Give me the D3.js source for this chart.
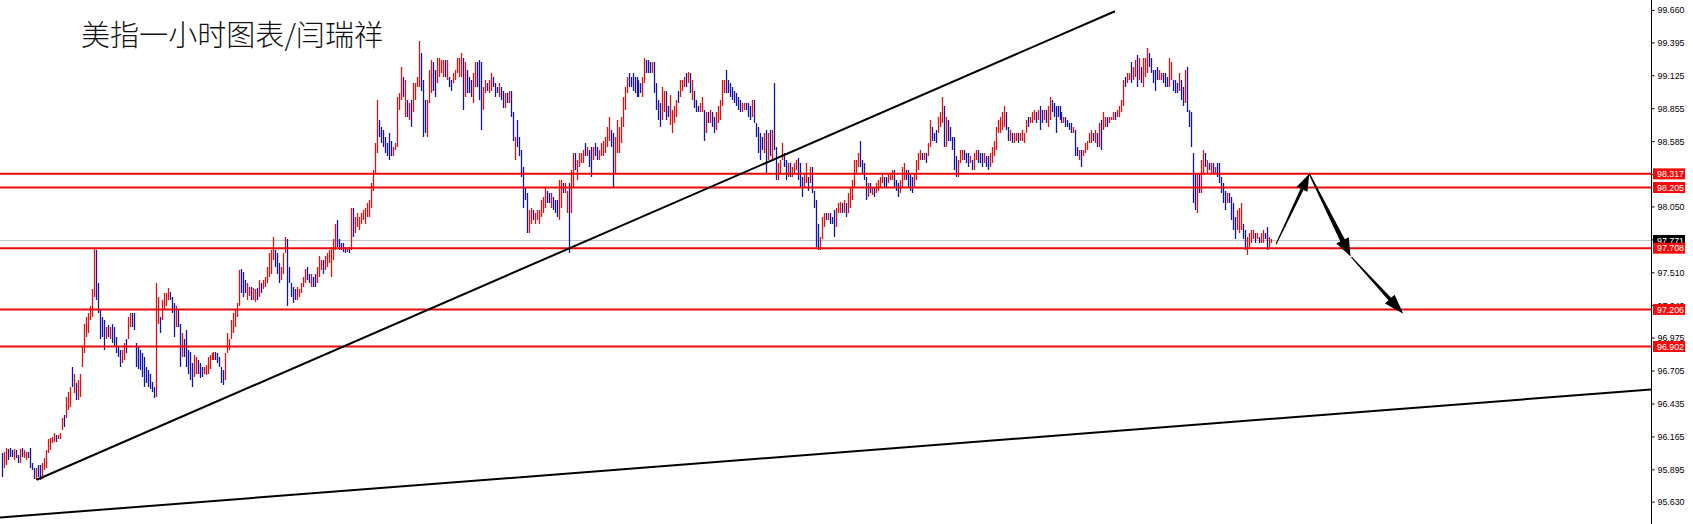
<!DOCTYPE html>
<html><head><meta charset="utf-8">
<script src="https://cdn.jsdelivr.net/npm/d3@7"></script>
<style>html,body{margin:0;padding:0;background:#fff;overflow:hidden}</style>
</head><body>
<svg id="c" width="1693" height="524"></svg>
<script>
const title = "美指一小时图表/闫瑞祥";
const highs = [
96.03,96.04,96.07,96.06,96.07,96.05,96.06,96.05,96.01,96.06,96.07,96.05,
96.04,96.04,96.07,95.95,95.91,95.91,95.93,95.93,95.95,95.99,96.05,
96.14,96.15,96.16,96.19,96.18,96.18,96.19,96.32,96.34,96.49,96.53,
96.57,96.73,96.68,96.60,96.63,96.68,96.90,97.09,97.14,97.18,
97.23,97.37,97.71,97.69,97.42,97.20,97.14,97.12,97.06,97.08,
97.06,97.09,97.06,96.98,96.90,96.87,96.87,96.93,96.96,97.14,
97.18,97.18,97.18,96.93,96.90,96.87,96.85,96.82,96.73,96.71,
96.68,96.61,96.57,97.42,97.31,97.14,97.28,97.34,97.34,97.38,
97.35,97.31,97.26,97.23,97.20,97.09,97.01,96.96,97.04,96.87,
96.86,96.77,96.83,96.82,96.79,96.77,96.73,96.73,96.75,96.82,
96.83,96.85,96.86,96.86,96.85,96.82,96.73,96.71,96.85,97.01,
96.96,97.12,97.18,97.20,97.26,97.53,97.54,97.51,97.45,97.42,
97.39,97.39,97.38,97.37,97.38,97.45,97.42,97.45,97.47,97.55,
97.67,97.69,97.80,97.69,97.67,97.59,97.55,97.67,97.80,97.78,
97.55,97.42,97.39,97.37,97.39,97.37,97.42,97.47,97.54,97.55,
97.50,97.50,97.47,97.50,97.55,97.64,97.61,97.61,97.64,97.67,
97.69,97.72,97.78,97.91,97.94,97.78,97.75,97.75,97.72,97.72,
97.72,98.04,98.04,97.96,98.00,97.96,98.00,98.02,98.04,98.08,
98.10,98.24,98.35,98.57,98.92,98.76,98.70,98.68,98.62,98.57,
98.65,98.59,98.54,98.57,98.95,98.98,99.19,99.11,99.09,98.92,98.90,
98.92,99.06,99.06,99.11,99.41,99.31,99.09,98.92,98.92,99.17,
99.25,99.23,99.17,99.27,99.27,99.25,99.25,99.25,99.25,99.11,
99.09,99.14,99.17,99.27,99.27,99.31,99.27,99.23,99.17,99.11,
99.09,99.14,99.23,99.23,99.25,99.23,99.03,99.09,99.06,99.09,
99.14,99.11,99.06,99.03,99.06,99.03,99.00,98.98,98.98,99.00,
99.00,98.82,98.62,98.76,98.62,98.51,98.37,98.21,98.16,98.02,
98.04,98.02,98.00,98.02,98.02,98.10,98.13,98.21,98.18,98.16,
98.16,98.13,98.10,98.10,98.27,98.27,98.24,98.24,98.18,98.24,
98.35,98.49,98.49,98.43,98.49,98.49,98.51,98.57,98.54,98.51,
98.54,98.54,98.57,98.54,98.51,98.57,98.59,98.62,98.70,98.78,
98.68,98.65,98.62,98.76,98.70,98.78,98.95,99.03,99.11,99.14,
99.11,99.14,99.11,99.11,99.09,99.06,99.11,99.27,99.25,99.25,
99.23,99.23,99.23,99.06,98.92,98.90,99.03,99.00,99.00,98.87,98.96,
98.84,98.87,98.92,99.00,99.09,99.09,99.11,99.14,99.15,99.14,
99.09,99.00,98.92,98.87,98.90,98.95,98.84,98.82,98.82,98.84,
98.82,98.78,98.82,98.87,98.92,99.09,99.09,99.17,99.09,99.06,
99.03,99.00,98.98,98.95,98.92,98.90,98.90,98.90,98.90,98.87,
98.92,98.92,98.73,98.70,98.65,98.62,98.65,98.68,98.65,98.68,
98.68,99.06,98.54,98.41,98.43,98.57,98.49,98.43,98.41,98.41,
98.37,98.41,98.43,98.45,98.41,98.29,98.32,98.41,98.29,98.37,
98.37,98.18,98.10,97.91,97.80,97.96,98.00,98.00,98.00,98.00,
97.96,98.02,98.04,98.08,98.09,98.08,98.10,98.08,98.16,98.21,
98.27,98.43,98.43,98.49,98.59,98.43,98.41,98.29,98.24,98.24,
98.21,98.21,98.24,98.27,98.29,98.32,98.29,98.29,98.32,98.32,
98.35,98.35,98.27,98.24,98.27,98.37,98.41,98.35,98.35,98.32,
98.29,98.32,98.43,98.49,98.51,98.49,98.49,98.49,98.57,98.76,
98.70,98.65,98.68,98.78,98.82,98.95,98.87,98.78,98.76,98.70,
98.62,98.62,98.46,98.43,98.51,98.51,98.51,98.49,98.49,98.46,
98.43,98.49,98.51,98.51,98.49,98.49,98.49,98.46,98.46,98.49,
98.54,98.59,98.70,98.76,98.78,98.82,98.87,98.82,98.70,98.68,
98.65,98.65,98.65,98.65,98.65,98.68,98.65,98.76,98.78,98.78,
98.82,98.84,98.82,98.84,98.87,98.84,98.84,98.84,98.87,98.95,
98.92,98.90,98.87,98.87,98.87,98.82,98.78,98.78,98.76,98.73,
98.73,98.70,98.68,98.54,98.51,98.51,98.51,98.57,98.59,98.65,
98.68,98.65,98.68,98.65,98.73,98.76,98.82,98.78,98.78,98.78,
98.78,98.82,98.82,98.84,98.87,98.92,99.09,99.11,99.14,99.14,
99.23,99.19,99.25,99.29,99.27,99.19,99.27,99.27,99.35,99.31,
99.27,99.17,99.17,99.19,99.17,99.14,99.14,99.14,99.11,99.27,
99.23,99.09,99.09,99.06,99.14,99.09,99.03,99.17,99.19,98.84,
98.82,98.49,98.32,98.32,98.32,98.43,98.51,98.49,98.43,98.41,
98.41,98.41,98.37,98.41,98.41,98.29,98.24,98.18,98.16,98.16,
98.13,98.08,97.96,98.02,98.04,98.08,97.91,97.86,97.80,97.83,
97.86,97.86,97.83,97.83,97.80,97.83,97.86,97.83,97.88,97.80,
97.78];
const lows = [
95.83,95.91,95.93,95.97,96.00,96.00,95.97,95.99,95.95,95.95,96.00,95.99,
95.97,95.99,95.91,95.89,95.82,95.81,95.83,95.81,95.82,95.89,95.91,
96.03,96.05,96.11,96.12,96.12,96.14,96.14,96.22,96.24,96.32,96.38,
96.41,96.57,96.52,96.46,96.46,96.49,96.73,96.85,96.98,97.01,
97.12,97.14,97.31,97.28,97.18,96.96,96.98,96.87,96.96,96.98,
96.96,96.93,96.90,96.85,96.82,96.73,96.77,96.79,96.85,96.96,
97.06,97.06,97.04,96.73,96.72,96.71,96.65,96.57,96.60,96.57,
96.55,96.53,96.48,96.49,97.09,97.01,97.12,97.20,97.23,97.28,
97.28,97.18,96.98,97.06,97.06,96.73,96.82,96.82,96.73,96.68,
96.63,96.57,96.65,96.68,96.68,96.64,96.65,96.68,96.67,96.68,
96.72,96.79,96.79,96.79,96.77,96.73,96.60,96.59,96.63,96.85,
96.87,96.96,97.01,97.06,97.14,97.23,97.34,97.31,97.34,97.28,
97.32,97.28,97.28,97.27,97.28,97.31,97.34,97.37,97.39,97.42,
97.47,97.50,97.61,97.55,97.50,97.42,97.45,97.50,97.67,97.23,
97.42,97.31,97.26,97.28,97.28,97.31,97.34,97.39,97.42,97.45,
97.42,97.39,97.39,97.39,97.42,97.47,97.53,97.50,97.53,97.55,
97.59,97.47,97.61,97.69,97.72,97.69,97.69,97.68,97.67,97.68,
97.67,97.69,97.80,97.83,97.88,97.86,97.91,97.94,97.91,97.96,
97.96,98.04,98.18,98.32,98.49,98.62,98.57,98.54,98.49,98.46,
98.43,98.46,98.46,98.51,98.54,98.84,98.92,98.95,98.78,98.78,98.76,
98.70,98.82,98.92,99.03,99.03,99.00,98.62,98.65,98.62,98.90,
98.98,99.00,98.95,99.06,99.11,99.14,99.11,99.11,99.09,99.03,
99.00,99.06,99.09,99.14,99.11,99.11,98.84,98.95,98.98,98.98,
98.95,98.90,99.03,99.03,98.92,98.68,98.84,98.98,99.00,98.98,
99.00,99.03,98.95,98.98,98.95,98.92,98.86,98.86,98.90,98.90,
98.78,98.59,98.43,98.54,98.46,98.29,98.04,98.10,97.83,97.83,
97.91,97.94,97.91,97.94,97.91,97.96,98.00,98.04,98.08,98.08,
98.04,98.02,98.00,97.96,97.94,98.04,98.16,98.16,98.00,97.67,
98.00,98.21,98.35,98.27,98.37,98.41,98.41,98.46,98.46,98.37,
98.29,98.43,98.46,98.43,98.43,98.46,98.46,98.49,98.54,98.59,
98.54,98.21,98.32,98.49,98.49,98.57,98.70,98.84,98.98,99.03,
99.03,99.00,98.98,98.95,98.95,98.98,98.95,99.06,99.14,99.14,
99.14,99.14,98.98,98.84,98.76,98.70,98.76,98.82,98.76,98.78,98.72,
98.65,98.73,98.78,98.90,98.95,99.00,99.03,99.03,99.06,98.98,
98.92,98.86,98.82,98.82,98.82,98.82,98.59,98.65,98.73,98.73,
98.70,98.65,98.68,98.73,98.76,98.87,98.98,98.98,98.98,98.95,
98.92,98.90,98.87,98.84,98.82,98.82,98.84,98.84,98.78,98.76,
98.78,98.73,98.62,98.49,98.43,98.51,98.49,98.32,98.43,98.46,
98.43,98.51,98.27,98.27,98.32,98.43,98.37,98.27,98.29,98.29,
98.29,98.32,98.35,98.27,98.21,98.13,98.21,98.24,98.18,98.24,
98.16,98.04,97.72,97.69,97.69,97.78,97.88,97.94,97.94,97.91,
97.91,97.80,97.88,98.00,98.00,98.00,98.00,97.96,98.00,98.04,
98.10,98.21,98.32,98.37,98.37,98.32,98.27,98.10,98.13,98.16,
98.14,98.13,98.16,98.18,98.21,98.24,98.21,98.21,98.24,98.27,
98.27,98.21,98.18,98.13,98.16,98.21,98.27,98.27,98.21,98.18,
98.16,98.21,98.27,98.35,98.43,98.43,98.43,98.41,98.46,98.54,
98.59,98.59,98.57,98.65,98.70,98.73,98.54,98.54,98.59,98.59,
98.51,98.35,98.29,98.29,98.41,98.43,98.43,98.41,98.37,98.41,
98.35,98.35,98.43,98.41,98.41,98.37,98.41,98.37,98.35,98.37,
98.41,98.46,98.51,98.65,98.65,98.68,98.70,98.68,98.59,98.59,
98.57,98.57,98.59,98.57,98.59,98.59,98.57,98.65,98.70,98.73,
98.73,98.76,98.73,98.76,98.68,98.73,98.76,98.73,98.70,98.76,
98.82,98.78,98.65,98.78,98.76,98.73,98.73,98.70,98.70,98.68,
98.65,98.65,98.46,98.46,98.43,98.37,98.46,98.49,98.51,98.57,
98.57,98.59,98.57,98.54,98.54,98.51,98.68,98.70,98.70,98.73,
98.76,98.76,98.76,98.78,98.78,98.82,98.87,99.03,99.06,99.09,
99.06,99.09,99.11,99.03,99.09,99.06,99.03,99.11,99.14,99.19,
99.14,99.06,99.00,99.09,99.09,99.09,99.06,99.03,99.03,99.03,
99.09,99.00,98.98,98.98,99.00,98.92,98.87,98.90,98.82,98.70,
98.54,98.08,98.02,98.00,98.16,98.16,98.32,98.37,98.32,98.35,
98.32,98.32,98.32,98.29,98.24,98.16,98.08,98.02,98.08,98.08,
97.94,97.86,97.78,97.86,97.83,97.86,97.78,97.69,97.65,97.72,
97.75,97.78,97.75,97.78,97.75,97.75,97.75,97.78,97.69,97.72,
97.75];
// U = bullish bar (red), D = bearish bar (blue)
const directions = [
"DUUDDDUDDUDU","UDDDDUDDUUU","UUUUDUUUDUU","UDUDUUUUUU","UUUDDDDDUD",
"UDDDDDUUDU","UDDDDDDDDD","DDDUUDUUUU","DDDUDDUDDD","DDUUDDDUUU",
"UUUDDDDDUU","UUUUUUDDDU","UDUUDUDUUU","UUUDDDUUUD","DDDDUUUUUD",
"DUDDUUUDUU","UUUUDDDDDU","DUDUUUUUUU","UUUUUDDDDD","DDUUUUUDUDU",
"DUUUUDDDUU","UDDUUUUDUD","DUUUUUDUDD","DUUDDDUUDU","UDDDUDDUDU",
"DDUDDDDDDU","UDUUUUUUDD","UDDDUUDUUD","UUDUUUUDUD","DUDDUUUUUU",
"DDUUUUUUUD","DDDDDDUUDD","DUDDDDUUDDU","UUUDUUUDUD","UDDDUUDUDU",
"DDUUUUUDDD","DDDDDUUDDD","UDDDDDUDUD","UDDUUUDDUD","UUUDDDUUDU",
"DDDDUUUDUD","DDUUUDUDUU","UUUUDDDDUD","UDUUUUDDUU","UDDDUUUDDD",
"DUUUUDUDUU","DDDUUUDUDD","DDDUUUDDDU","DUUDDDUDDU","UUUUUUUDDU",
"DUUDUUUUDU","UUDUDDUDUU","DDDDDDUDDD","DUDDUDUUUU","UDUDUDUUDU",
"UUDUUUUDUU","DUUDUDUUUD","DDDDUUDDDU","UDDDUDDUDD","DDDUDUUDUD",
"UDUDDDDDUD","DDDUUUDDUU","UUDUDUUDDU","U"].join("").split("");

const tickValues = [99.660, 99.395, 99.125, 98.855, 98.585, 98.315, 98.050, 97.780,
                    97.510, 97.240, 96.975, 96.705, 96.435, 96.165, 95.895, 95.630];
const levels = [98.317, 98.205, 97.708, 97.206, 96.902];
const bidPrice = 97.771;
// trend lines: bar index / price pairs
const trendLines = [
  {i1: 17.4, p1: 95.81, i2: 557.8, p2: 99.65},
  {i1: -1.0, p1: 95.50, i2: 826.4, p2: 96.55}
];
// forecast arrows: [from, to] in bar index / price
const arrowPaths = [
  [[638.5, 97.74], [655.2, 98.317]],
  [[655.2, 98.317], [675.9, 97.64]],
  [[676.3, 97.635], [702.3, 97.17]]
];

const W = 1693, H = 524, axisX = 1651;
const N = Math.min(highs.length, lows.length);
const svg = d3.select("#c");
svg.append("rect").attr("width", W).attr("height", H).attr("fill", "#fff");

const x = d3.scaleLinear().domain([0, N - 1]).range([2, 1271]);
const y = d3.scaleLinear().domain([95.630, 99.660]).range([501.7, 10]);

const RED = "#d81414", BLUE = "#1414a8", LEVEL = "#ee0a0a";

// bid line
svg.append("line").attr("x1", 0).attr("x2", axisX)
  .attr("y1", Math.round(y(bidPrice)) + 0.5).attr("y2", Math.round(y(bidPrice)) + 0.5)
  .attr("stroke", "#c4c4c4").attr("stroke-width", 1);

// bars
const bars = d3.range(N).map(i => ({i, h: Math.max(highs[i], lows[i]), l: Math.min(highs[i], lows[i]), d: directions[i] || "U"}));
svg.append("g").selectAll("line").data(bars).join("line")
  .attr("x1", d => Math.round(x(d.i)) + 0.5).attr("x2", d => Math.round(x(d.i)) + 0.5)
  .attr("y1", d => Math.round(y(d.h))).attr("y2", d => Math.max(Math.round(y(d.l)), Math.round(y(d.h)) + 2))
  .attr("stroke", d => d.d === "U" ? RED : BLUE).attr("stroke-width", 1.3);

// level lines
svg.append("g").selectAll("line").data(levels).join("line")
  .attr("x1", 0).attr("x2", axisX).attr("y1", d => y(d)).attr("y2", d => y(d))
  .attr("stroke", LEVEL).attr("stroke-width", 2);

// trend lines (clipped to chart area)
svg.append("clipPath").attr("id", "plot").append("rect").attr("x", 0).attr("y", 0).attr("width", axisX).attr("height", H);
svg.append("g").attr("clip-path", "url(#plot)").selectAll("line").data(trendLines).join("line")
  .attr("x1", d => x(d.i1)).attr("y1", d => y(d.p1)).attr("x2", d => x(d.i2)).attr("y2", d => y(d.p2))
  .attr("stroke", "#000").attr("stroke-width", 2);

// arrows
const arrowStyle = [{w0: 1, w1: 3.2, hl: 17, hw: 12}, {w0: 1.2, w1: 5, hl: 18, hw: 14}, {w0: 1, w1: 3.6, hl: 20, hw: 13}];
function arrowPoly(a, s) {
  const x0 = x(a[0][0]), y0 = y(a[0][1]), x1 = x(a[1][0]), y1 = y(a[1][1]);
  const L = Math.hypot(x1 - x0, y1 - y0), ux = (x1 - x0) / L, uy = (y1 - y0) / L;
  const nx = -uy, ny = ux, bx = x1 - ux * s.hl, by = y1 - uy * s.hl;
  const p = [[x0 + nx * s.w0 / 2, y0 + ny * s.w0 / 2], [bx + nx * s.w1 / 2, by + ny * s.w1 / 2],
             [bx + nx * s.hw / 2, by + ny * s.hw / 2], [x1, y1],
             [bx - nx * s.hw / 2, by - ny * s.hw / 2], [bx - nx * s.w1 / 2, by - ny * s.w1 / 2],
             [x0 - nx * s.w0 / 2, y0 - ny * s.w0 / 2]];
  return p.map(q => q.join(",")).join(" ");
}
svg.append("g").selectAll("polygon").data(arrowPaths).join("polygon")
  .attr("points", (d, i) => arrowPoly(d, arrowStyle[i])).attr("fill", "#000");

// right axis
svg.append("rect").attr("x", axisX).attr("y", 0).attr("width", W - axisX).attr("height", H).attr("fill", "#fff");
const axis = d3.axisRight(y).tickValues(tickValues).tickFormat(d3.format(".3f")).tickSize(3).tickPadding(3);
const ag = svg.append("g").attr("transform", `translate(${axisX + 0.5},0)`).call(axis);
ag.select(".domain").attr("d", `M0,0V${H}`).attr("stroke", "#000");
ag.selectAll(".tick line").attr("stroke", "#000");
ag.selectAll(".tick text").attr("font-family", "Liberation Sans, Arial, sans-serif").attr("font-size", 9.3)
  .attr("fill", "#000").attr("textLength", 27).attr("lengthAdjust", "spacingAndGlyphs");

// price labels
function priceLabel(v, bg) {
  const g = svg.append("g");
  const cy = y(v);
  g.append("rect").attr("x", axisX + 2).attr("y", cy - 5.5).attr("width", 32).attr("height", 11).attr("fill", bg);
  g.append("text").attr("x", axisX + 6).attr("y", cy).attr("dy", "0.35em")
    .attr("font-family", "Liberation Sans, Arial, sans-serif").attr("font-size", 9.3).attr("fill", "#fff")
    .attr("textLength", 27).attr("lengthAdjust", "spacingAndGlyphs").text(d3.format(".3f")(v));
}
priceLabel(bidPrice, "#000");
levels.forEach(v => priceLabel(v, "#f50a0a"));

// title
svg.append("text").attr("x", 81).attr("y", 46).attr("font-family", "Noto Sans CJK SC, sans-serif")
  .attr("font-weight", 300).attr("font-size", 29).attr("fill", "#111").attr("textLength", 302)
  .attr("lengthAdjust", "spacingAndGlyphs").text(title);
</script>
</body></html>
